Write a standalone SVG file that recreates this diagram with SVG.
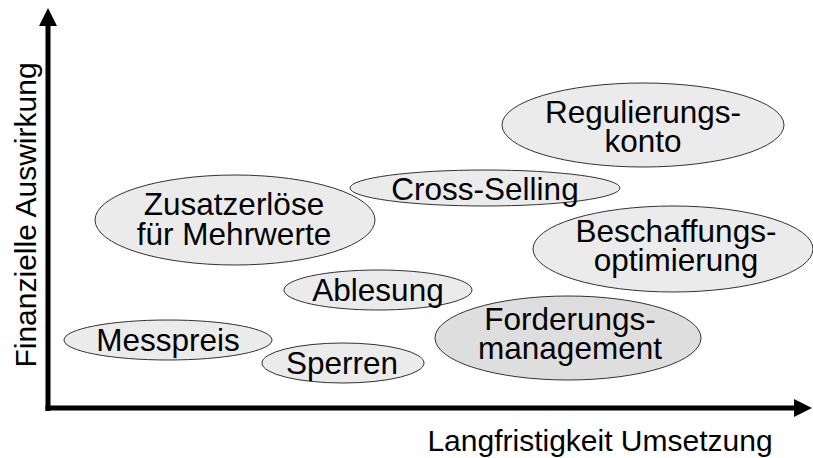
<svg xmlns="http://www.w3.org/2000/svg" width="813" height="458" viewBox="0 0 813 458">
<style>
.n ellipse{fill:#ebebeb;stroke:#333;stroke-width:1}
.n.d ellipse{fill:#dedede}
text{font-family:"Liberation Sans",Arial,sans-serif;font-size:30px;fill:#000;text-anchor:middle}
.n text{font-size:31.5px}
.ax{stroke:#000;stroke-width:5;fill:none}
</style>
<rect width="813" height="458" fill="#fff"/>
<g id="axes">
<line class="ax" x1="48" y1="411" x2="48" y2="24"/>
<polygon points="48,8 39,26 57,26" fill="#000"/>
<line class="ax" x1="45.5" y1="408" x2="796" y2="408"/>
<polygon points="812,408 794,399 794,417" fill="#000"/>
<text x="600" y="451">Langfristigkeit Umsetzung</text>
<text transform="translate(36,215) rotate(-90)">Finanzielle Auswirkung</text>
</g>
<g id="regulierungskonto" class="n"><ellipse cx="643" cy="125" rx="141" ry="42"/><text x="643" y="123">Regulierungs-</text><text x="643" y="152">konto</text></g>
<g id="crossselling" class="n"><ellipse cx="485" cy="188" rx="135" ry="18"/><text x="485" y="200">Cross-Selling</text></g>
<g id="zusatzerloese" class="n"><ellipse cx="235" cy="220" rx="140" ry="45"/><text x="234" y="215">Zusatzerlöse</text><text x="234" y="245">für Mehrwerte</text></g>
<g id="beschaffung" class="n"><ellipse cx="673" cy="249" rx="140" ry="43"/><text x="676" y="242">Beschaffungs-</text><text x="676" y="271">optimierung</text></g>
<g id="ablesung" class="n"><ellipse cx="378" cy="290" rx="94" ry="20"/><text x="378" y="301">Ablesung</text></g>
<g id="messpreis" class="n"><ellipse cx="168" cy="340" rx="104" ry="20"/><text x="168" y="351">Messpreis</text></g>
<g id="sperren" class="n"><ellipse cx="343" cy="363" rx="81" ry="20"/><text x="342" y="374">Sperren</text></g>
<g id="forderung" class="n d"><ellipse cx="568" cy="338" rx="133" ry="42"/><text x="570" y="330">Forderungs-</text><text x="570" y="359">management</text></g>
<g id="connectors"></g>
</svg>
